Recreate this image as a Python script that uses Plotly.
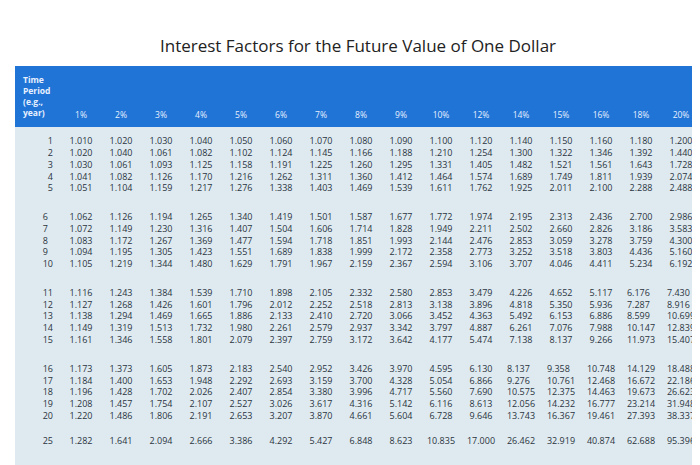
import plotly.graph_objects as go

rates = ["1%","2%","3%","4%","5%","6%","7%","8%","9%","10%","12%","14%","15%","16%","18%","20%"]
periods = [1,2,3,4,5,6,7,8,9,10,11,12,13,14,15,16,17,18,19,20,25,30]
rows = [
[1.010,1.020,1.030,1.040,1.050,1.060,1.070,1.080,1.090,1.100,1.120,1.140,1.150,1.160,1.180,1.200],
[1.020,1.040,1.061,1.082,1.102,1.124,1.145,1.166,1.188,1.210,1.254,1.300,1.322,1.346,1.392,1.440],
[1.030,1.061,1.093,1.125,1.158,1.191,1.225,1.260,1.295,1.331,1.405,1.482,1.521,1.561,1.643,1.728],
[1.041,1.082,1.126,1.170,1.216,1.262,1.311,1.360,1.412,1.464,1.574,1.689,1.749,1.811,1.939,2.074],
[1.051,1.104,1.159,1.217,1.276,1.338,1.403,1.469,1.539,1.611,1.762,1.925,2.011,2.100,2.288,2.488],
[1.062,1.126,1.194,1.265,1.340,1.419,1.501,1.587,1.677,1.772,1.974,2.195,2.313,2.436,2.700,2.986],
[1.072,1.149,1.230,1.316,1.407,1.504,1.606,1.714,1.828,1.949,2.211,2.502,2.660,2.826,3.186,3.583],
[1.083,1.172,1.267,1.369,1.477,1.594,1.718,1.851,1.993,2.144,2.476,2.853,3.059,3.278,3.759,4.300],
[1.094,1.195,1.305,1.423,1.551,1.689,1.838,1.999,2.172,2.358,2.773,3.252,3.518,3.803,4.436,5.160],
[1.105,1.219,1.344,1.480,1.629,1.791,1.967,2.159,2.367,2.594,3.106,3.707,4.046,4.411,5.234,6.192],
[1.116,1.243,1.384,1.539,1.710,1.898,2.105,2.332,2.580,2.853,3.479,4.226,4.652,5.117,6.176,7.430],
[1.127,1.268,1.426,1.601,1.796,2.012,2.252,2.518,2.813,3.138,3.896,4.818,5.350,5.936,7.287,8.916],
[1.138,1.294,1.469,1.665,1.886,2.133,2.410,2.720,3.066,3.452,4.363,5.492,6.153,6.886,8.599,10.699],
[1.149,1.319,1.513,1.732,1.980,2.261,2.579,2.937,3.342,3.797,4.887,6.261,7.076,7.988,10.147,12.839],
[1.161,1.346,1.558,1.801,2.079,2.397,2.759,3.172,3.642,4.177,5.474,7.138,8.137,9.266,11.973,15.407],
[1.173,1.373,1.605,1.873,2.183,2.540,2.952,3.426,3.970,4.595,6.130,8.137,9.358,10.748,14.129,18.488],
[1.184,1.400,1.653,1.948,2.292,2.693,3.159,3.700,4.328,5.054,6.866,9.276,10.761,12.468,16.672,22.186],
[1.196,1.428,1.702,2.026,2.407,2.854,3.380,3.996,4.717,5.560,7.690,10.575,12.375,14.463,19.673,26.623],
[1.208,1.457,1.754,2.107,2.527,3.026,3.617,4.316,5.142,6.116,8.613,12.056,14.232,16.777,23.214,31.948],
[1.220,1.486,1.806,2.191,2.653,3.207,3.870,4.661,5.604,6.728,9.646,13.743,16.367,19.461,27.393,38.337],
[1.282,1.641,2.094,2.666,3.386,4.292,5.427,6.848,8.623,10.835,17.000,26.462,32.919,40.874,62.688,95.396],
[1.348,1.811,2.427,3.243,4.322,5.743,7.612,10.063,13.268,17.449,29.960,50.950,66.212,85.850,143.370,237.370],
]
# groups of rows shown together as one block
groups = [(0, 5), (5, 10), (10, 15), (15, 20), (20, 21), (21, 22)]

col_period = []
cols = [[] for _ in rates]
for a, b in groups:
    col_period.append("<br>".join(str(p) for p in periods[a:b]))
    for j in range(len(rates)):
        cols[j].append("<br>".join(f"{rows[i][j]:.3f}" for i in range(a, b)))

header = ["<b>Time<br>Period<br>(e.g.,<br>year)</b>"] + ["<br><br><br><br>" + r for r in rates]

fig = go.Figure(go.Table(
    columnwidth=[1.15] + [1]*16,
    header=dict(values=header, fill_color="#1f74d6", line_color="#1f74d6",
                font=dict(color="#e8f0ff", size=8.5, family="Open Sans"),
                align=["left"] + ["center"]*16, height=58),
    cells=dict(values=[col_period] + cols, fill_color="#dfeaf0", line_color="#dfeaf0",
               font=dict(color="#2a3440", size=9, family="Open Sans"),
               align=["right"] + ["center"]*16, height=30),
    domain=dict(x=[0.01, 0.99], y=[0, 0.89]),
))
fig.update_layout(
    width=700, height=465, margin=dict(l=0, r=0, t=8, b=0),
    paper_bgcolor="white",
    title=dict(text="Interest Factors for the Future Value of One Dollar", x=0.5, y=0.93,
               font=dict(size=17, color="#222", family="Open Sans")),
)
fig.write_html("out.html")
